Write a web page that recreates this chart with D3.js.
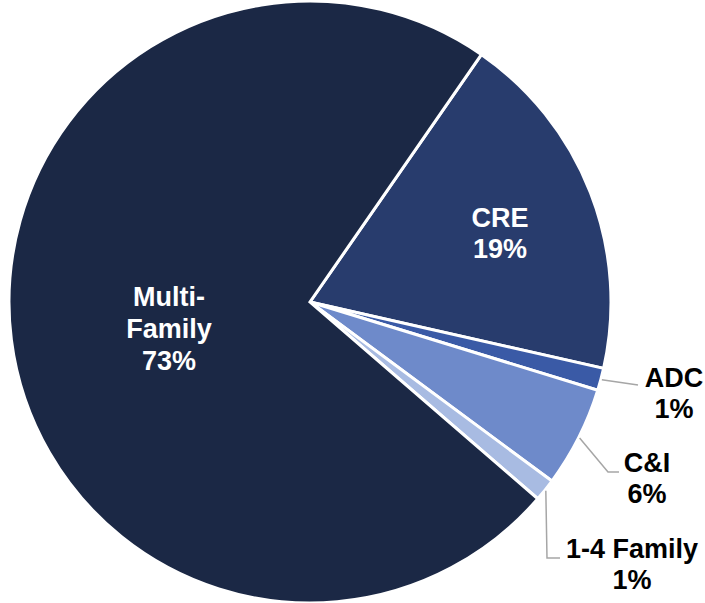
<!DOCTYPE html>
<html><head><meta charset="utf-8">
<script src="https://cdn.jsdelivr.net/npm/d3@7"></script>
<style>html,body{margin:0;padding:0;background:#fff;}svg{display:block;}</style>
</head><body>
<svg id="chart" width="705" height="603"></svg>
<script>
const categories = ["CRE", "ADC", "C&I", "1-4 Family", "Multi-Family"];
const values = [18.9, 1.2, 5.4, 1.2, 73.3];
const pctLabels = ["19%", "1%", "6%", "1%", "73%"];
const colors = ["#283C6D", "#3A5AA6", "#6E8ACA", "#A8BBE2", "#1B2845"];

const svg = d3.select("#chart");
const cx = 310, cy = 302, r = 301;
const start = 34.7 * Math.PI / 180;
const pie = d3.pie().sort(null).value(d => d).startAngle(start).endAngle(start + 2 * Math.PI);
const arcs = pie(values);
const arc = d3.arc().innerRadius(0).outerRadius(r);
const g = svg.append("g").attr("transform", `translate(${cx},${cy})`);

g.selectAll("path.slice").data(arcs).join("path")
  .attr("class", "slice")
  .attr("d", arc)
  .attr("fill", (d, i) => colors[i])
  .attr("stroke", "#fff")
  .attr("stroke-width", 3)
  .attr("stroke-linejoin", "miter");

const font = "'Liberation Sans', Arial, sans-serif";
function rimPoint(d, rr) {
  const a = (d.startAngle + d.endAngle) / 2;
  return [rr * Math.sin(a), -rr * Math.cos(a)];
}

// inside labels
const inside = [
  { i: 0, lines: ["CRE"], x: 500 - cx, y: 227 - cy, lh: 31 },
  { i: 4, lines: ["Multi-", "Family"], x: 169 - cx, y: 306 - cy, lh: 32 }
];
inside.forEach(o => {
  const t = g.append("text").attr("text-anchor", "middle")
    .attr("font-family", font).attr("font-weight", "bold").attr("font-size", 27)
    .attr("fill", "#fff");
  const all = o.lines.concat([pctLabels[o.i]]);
  all.forEach((s, k) => t.append("tspan").attr("x", o.x).attr("y", o.y + k * o.lh).text(s));
});

// outside labels with leader lines
const outside = [
  { i: 1, x: 674 - cx, y: 387 - cy, pts: [[638 - cx, 385 - cy]] },
  { i: 2, x: 647 - cx, y: 472 - cy, pts: [[608 - cx, 472 - cy], [619 - cx, 472 - cy]] },
  { i: 3, x: 632 - cx, y: 558 - cy, pts: [[547 - cx, 558 - cy], [560 - cx, 558 - cy]] }
];
outside.forEach(o => {
  const p0 = rimPoint(arcs[o.i], r + 1);
  g.append("path").attr("d", d3.line()([p0].concat(o.pts)))
    .attr("fill", "none").attr("stroke", "#A6A6A6").attr("stroke-width", 1.5);
  const t = g.append("text").attr("text-anchor", "middle")
    .attr("font-family", font).attr("font-weight", "bold").attr("font-size", 27)
    .attr("fill", "#000");
  [categories[o.i], pctLabels[o.i]].forEach((s, k) =>
    t.append("tspan").attr("x", o.x).attr("y", o.y + k * 31).text(s));
});
</script>
</body></html>
